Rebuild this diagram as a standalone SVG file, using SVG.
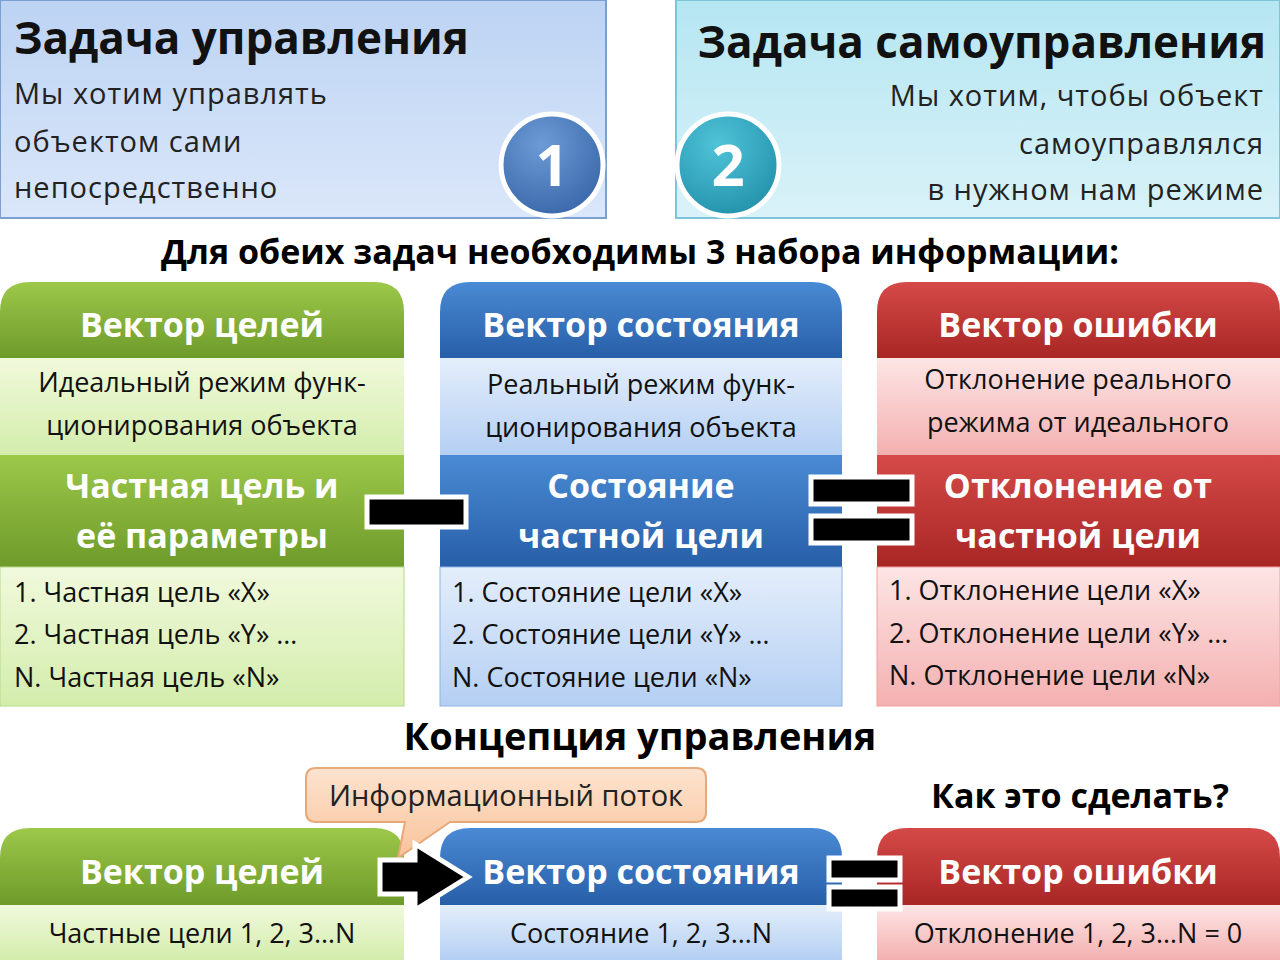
<svg xmlns="http://www.w3.org/2000/svg" width="1280" height="960" viewBox="0 0 1280 960">
<defs>
<linearGradient id="tb1" x1="0" y1="0" x2="0" y2="1"><stop offset="0" stop-color="#bcd3f3"/><stop offset="1" stop-color="#dbe7fa"/></linearGradient>
<linearGradient id="tb2" x1="0" y1="0" x2="0" y2="1"><stop offset="0" stop-color="#b5e6f2"/><stop offset="1" stop-color="#d9f2f8"/></linearGradient>
<linearGradient id="gH" x1="0" y1="0" x2="0" y2="1"><stop offset="0" stop-color="#9cc84a"/><stop offset="1" stop-color="#6e9a2a"/></linearGradient>
<linearGradient id="bH" x1="0" y1="0" x2="0" y2="1"><stop offset="0" stop-color="#4a8ad4"/><stop offset="1" stop-color="#275fa8"/></linearGradient>
<linearGradient id="rH" x1="0" y1="0" x2="0" y2="1"><stop offset="0" stop-color="#d54a48"/><stop offset="1" stop-color="#a82624"/></linearGradient>
<linearGradient id="gL" x1="0" y1="0" x2="0" y2="1"><stop offset="0" stop-color="#f1f9dc"/><stop offset="1" stop-color="#d3edac"/></linearGradient>
<linearGradient id="bL" x1="0" y1="0" x2="0" y2="1"><stop offset="0" stop-color="#e4eefb"/><stop offset="1" stop-color="#b4cff3"/></linearGradient>
<linearGradient id="rL" x1="0" y1="0" x2="0" y2="1"><stop offset="0" stop-color="#fde5e5"/><stop offset="1" stop-color="#f4b0b0"/></linearGradient>
<linearGradient id="oL" x1="0" y1="0" x2="0" y2="1"><stop offset="0" stop-color="#fde3cf"/><stop offset="1" stop-color="#f8c39a"/></linearGradient>
<radialGradient id="c1" cx="0.4" cy="0.3" r="0.8"><stop offset="0" stop-color="#6c9bd6"/><stop offset="1" stop-color="#3563a6"/></radialGradient>
<radialGradient id="c2" cx="0.4" cy="0.3" r="0.8"><stop offset="0" stop-color="#4fc3d8"/><stop offset="1" stop-color="#1f8ea8"/></radialGradient>
</defs>
<style>
text{font-family:"Open Sans","DejaVu Sans",sans-serif}
.t{font-size:44px;font-weight:bold;fill:#111}
.d{font-size:29px;fill:#222;letter-spacing:1px}
.h{font-size:34px;font-weight:bold;fill:#fff;text-anchor:middle}
.m{font-size:27px;fill:#111;text-anchor:middle}
.l{font-size:27px;fill:#111}
.k{font-size:38px;font-weight:bold;fill:#000;text-anchor:middle}
.bar{fill:#000;stroke:#fff;stroke-width:5}
</style>
<rect width="1280" height="960" fill="#fff"/>
<g id="top-left"><rect x="0" y="0" width="606" height="218" fill="url(#tb1)" stroke="#7aa0d0" stroke-width="2"/>
<text class="t" x="14" y="54">Задача управления</text>
<text class="d" x="14" y="104">Мы хотим управлять</text>
<text class="d" x="14" y="152">объектом сами</text>
<text class="d" x="14" y="198">непосредственно</text></g>
<g id="top-right"><rect x="676" y="0" width="604" height="218" fill="url(#tb2)" stroke="#7cc4d8" stroke-width="2"/>
<text class="t" x="1266" y="58" text-anchor="end">Задача самоуправления</text>
<text class="d" x="1264" y="106" text-anchor="end">Мы хотим, чтобы объект</text>
<text class="d" x="1264" y="154" text-anchor="end">самоуправлялся</text>
<text class="d" x="1264" y="200" text-anchor="end">в нужном нам режиме</text></g>
<g id="c-1"><circle cx="552" cy="165" r="51" fill="url(#c1)" stroke="#fff" stroke-width="5"/><text x="552" y="186" font-size="58" font-weight="bold" fill="#fff" text-anchor="middle">1</text></g>
<g id="c-2"><circle cx="728" cy="165" r="51" fill="url(#c2)" stroke="#fff" stroke-width="5"/><text x="728" y="186" font-size="58" font-weight="bold" fill="#fff" text-anchor="middle">2</text></g>
<text class="k" x="640" y="264" font-size="34" style="font-size:34px">Для обеих задач необходимы 3 набора информации:</text>

<g id="col-green">
<path d="M0,312 Q0,282 30,282 H374 Q404,282 404,312 V358 H0Z" fill="url(#gH)"/>
<rect x="0" y="358" width="404" height="97" fill="url(#gL)"/>
<rect x="0" y="455" width="404" height="112" fill="url(#gH)"/>
<rect x="0" y="567" width="404" height="139" fill="url(#gL)" stroke="#b5d98a"/>
<text class="h" x="202" y="337">Вектор целей</text>
<text class="m" x="202" y="392">Идеальный режим функ-</text>
<text class="m" x="202" y="435">ционирования объекта</text>
<text class="h" x="202" y="498">Частная цель и</text>
<text class="h" x="202" y="548">её параметры</text>
<text class="l" x="14" y="602">1. Частная цель «X»</text>
<text class="l" x="14" y="644">2. Частная цель «Y» …</text>
<text class="l" x="14" y="687">N. Частная цель «N»</text>
</g>
<g id="col-blue">
<path d="M440,312 Q440,282 470,282 H812 Q842,282 842,312 V358 H440Z" fill="url(#bH)"/>
<rect x="440" y="358" width="402" height="97" fill="url(#bL)"/>
<rect x="440" y="455" width="402" height="112" fill="url(#bH)"/>
<rect x="440" y="567" width="402" height="139" fill="url(#bL)" stroke="#8fb3e3"/>
<text class="h" x="641" y="337">Вектор состояния</text>
<text class="m" x="641" y="394">Реальный режим функ-</text>
<text class="m" x="641" y="437">ционирования объекта</text>
<text class="h" x="641" y="498">Состояние</text>
<text class="h" x="641" y="548">частной цели</text>
<text class="l" x="452" y="602">1. Состояние цели «X»</text>
<text class="l" x="452" y="644">2. Состояние цели «Y» …</text>
<text class="l" x="452" y="687">N. Состояние цели «N»</text>
</g>
<g id="col-red">
<path d="M877,312 Q877,282 907,282 H1250 Q1280,282 1280,312 V358 H877Z" fill="url(#rH)"/>
<rect x="877" y="358" width="403" height="97" fill="url(#rL)"/>
<rect x="877" y="455" width="403" height="112" fill="url(#rH)"/>
<rect x="877" y="567" width="403" height="139" fill="url(#rL)" stroke="#efa0a0"/>
<text class="h" x="1078" y="337">Вектор ошибки</text>
<text class="m" x="1078" y="389">Отклонение реального</text>
<text class="m" x="1078" y="432">режима от идеального</text>
<text class="h" x="1078" y="498">Отклонение от</text>
<text class="h" x="1078" y="548">частной цели</text>
<text class="l" x="889" y="600">1. Отклонение цели «X»</text>
<text class="l" x="889" y="643">2. Отклонение цели «Y» …</text>
<text class="l" x="889" y="685">N. Отклонение цели «N»</text>
</g>

<text class="k" x="640" y="750">Концепция управления</text>
<text class="k" x="1080" y="808" style="font-size:34px">Как это сделать?</text>

<g id="b-green">
<path d="M0,858 Q0,828 30,828 H374 Q404,828 404,858 V905 H0Z" fill="url(#gH)"/>
<rect x="0" y="905" width="404" height="55" fill="url(#gL)"/>
<text class="h" x="202" y="884">Вектор целей</text>
<text class="m" x="202" y="943">Частные цели 1, 2, 3…N</text>
</g>
<g id="b-blue">
<path d="M440,858 Q440,828 470,828 H812 Q842,828 842,858 V905 H440Z" fill="url(#bH)"/>
<rect x="440" y="905" width="402" height="55" fill="url(#bL)"/>
<text class="h" x="641" y="884">Вектор состояния</text>
<text class="m" x="641" y="943">Состояние 1, 2, 3…N</text>
</g>
<g id="b-red">
<path d="M877,858 Q877,828 907,828 H1250 Q1280,828 1280,858 V905 H877Z" fill="url(#rH)"/>
<rect x="877" y="905" width="403" height="55" fill="url(#rL)"/>
<text class="h" x="1078" y="884">Вектор ошибки</text>
<text class="m" x="1078" y="943">Отклонение 1, 2, 3…N = 0</text>
</g>
<g id="callout">
<path d="M316,768 H696 Q706,768 706,778 V812 Q706,822 696,822 H450 L398,858 L405,822 H316 Q306,822 306,812 V778 Q306,768 316,768Z" fill="url(#oL)" stroke="#e8a878" stroke-width="2"/>
<text x="506" y="806" font-size="29" fill="#222" text-anchor="middle">Информационный поток</text>
</g>
<g id="connectors">
<rect class="bar" x="367" y="497" width="99" height="30"/>
<rect class="bar" x="811" y="477" width="101" height="27"/>
<rect class="bar" x="811" y="516" width="101" height="27"/>
<path d="M380,860 H415 V844 L468,877 L415,910 V894 H380Z" fill="#000" stroke="#fff" stroke-width="5" stroke-linejoin="miter"/>
<rect class="bar" x="829" y="858" width="71" height="22"/>
<rect class="bar" x="829" y="887" width="71" height="22"/>
</g>
</svg>
